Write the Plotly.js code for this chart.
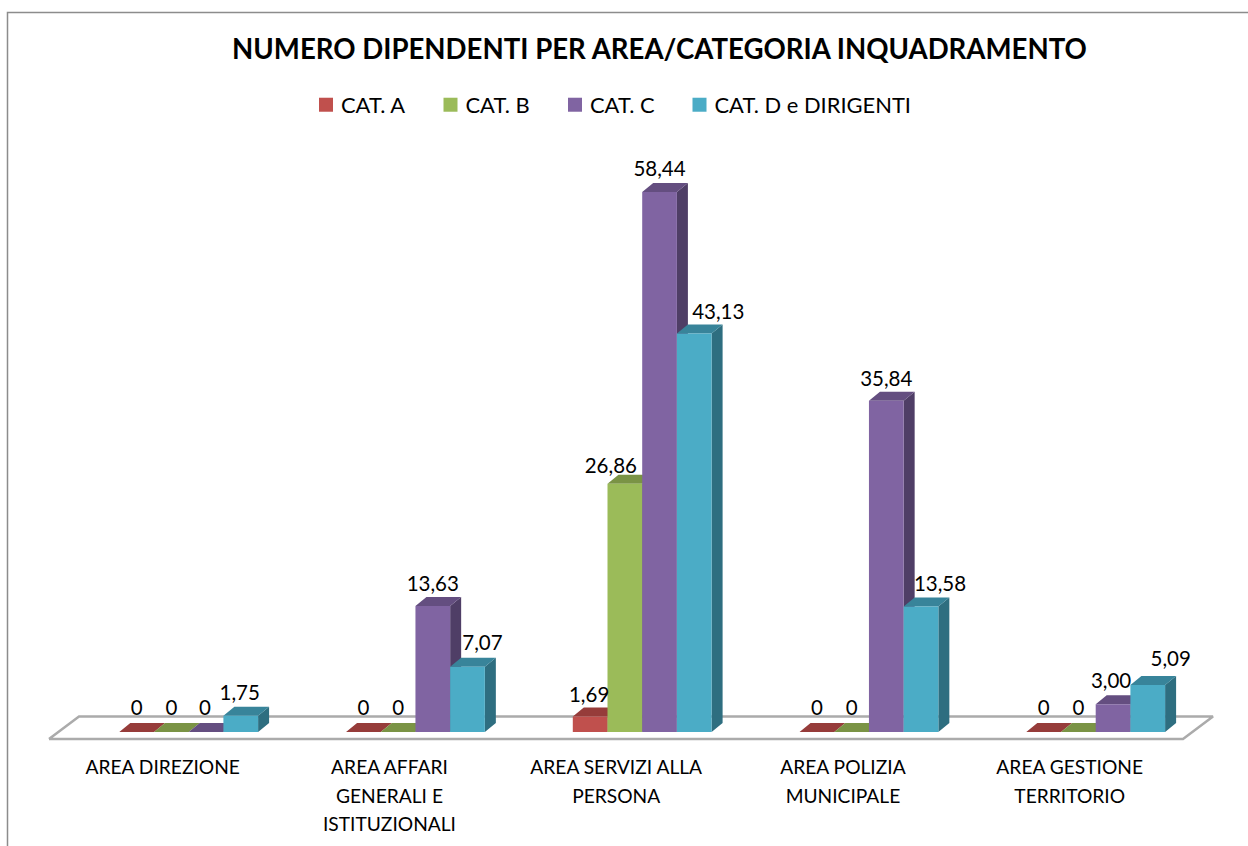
<!DOCTYPE html>
<html>
<head>
<meta charset="utf-8">
<script src="https://cdn.plot.ly/plotly-3.0.1.min.js"></script>
<style>html,body{margin:0;padding:0;background:#fff}</style>
</head>
<body>
<div id="chart" style="width:1248px;height:846px"></div>
<script>
const categories = ["AREA DIREZIONE", "AREA AFFARI<br>GENERALI E<br>ISTITUZIONALI", "AREA SERVIZI ALLA<br>PERSONA", "AREA POLIZIA<br>MUNICIPALE", "AREA GESTIONE<br>TERRITORIO"];
const seriesNames = ["CAT. A", "CAT. B", "CAT. C", "CAT. D e DIRIGENTI"];
const catA = [0, 0, 1.69, 0, 0];
const catB = [0, 0, 26.86, 0, 0];
const catC = [0, 13.63, 58.44, 35.84, 3.00];
const catD = [1.75, 7.07, 43.13, 13.58, 5.09];
const frontColors = ["#C0504D", "#9BBB59", "#8064A2", "#4BACC6"];
const topColors = ["#963C3A", "#7A9345", "#644E80", "#38849A"];
const sideColors = ["#7A302E", "#627637", "#4F3E66", "#2E6E80"];
// hand-placed label nudges (px), by series then category
const labelShiftX = [[0, 0, -1, 0, 0], [0, 0, -14, 0, 0], [-1, 0, 0, 0, -2], [-1, 15, 24, 19, 23]];
const labelLift = [[13, 13, 11, 13, 13], [13, 13, 7, 13, 13], [13, 11, 12, 11, 12], [12, 13, 11, 11.5, 15]];

const series = [catA, catB, catC, catD];
const FONT = "Lato, Carlito, sans-serif";
const spacingPx = 226.75, center0Px = 188.7, unitPx = 9.24, baselinePx = 732;
const plotL = 30, plotR = 1228, plotT = 140, plotB = 745;
const xRange = [(plotL - center0Px) / spacingPx, (plotR - center0Px) / spacingPx];
const yRange = [(baselinePx - plotB) / unitPx, (baselinePx - plotT) / unitPx];
const barW = 34.7 / spacingPx, depthX = 11 / spacingPx, depthY = 9 / unitPx;
const xOf = px => (px - center0Px) / spacingPx;
const yOf = px => (baselinePx - px) / unitPx;
const tickShift = -26 / spacingPx;

const traces = [];
// floor
traces.push({
  type: "scatter", mode: "lines", hoverinfo: "skip", showlegend: false,
  x: [xOf(49), xOf(1183), xOf(1213), xOf(79), xOf(49)],
  y: [yOf(739), yOf(739), yOf(716.5), yOf(716.5), yOf(739)],
  fill: "toself", fillcolor: "#FFFFFF",
  line: {color: "#ABABAB", width: 2.5}
});
// depth faces (side + top) of every bar, left to right
series.forEach((vals, s) => {
  const sx = [], sy = [], tx = [], ty = [];
  vals.forEach((v, i) => {
    const xl = i + (s - 2) * barW, xr = xl + barW;
    sx.push(xr, xr + depthX, xr + depthX, xr, xr, null);
    sy.push(0, depthY, v + depthY, v, 0, null);
    tx.push(xl, xl + depthX, xr + depthX, xr, xl, null);
    ty.push(v, v + depthY, v + depthY, v, v, null);
  });
  traces.push({type: "scatter", mode: "lines", x: sx, y: sy, fill: "toself", fillcolor: sideColors[s],
    line: {width: 0, color: sideColors[s]}, hoverinfo: "skip", showlegend: false});
  traces.push({type: "scatter", mode: "lines", x: tx, y: ty, fill: "toself", fillcolor: topColors[s],
    line: {width: 0, color: topColors[s]}, hoverinfo: "skip", showlegend: false});
});
// front faces
series.forEach((vals, s) => {
  traces.push({type: "bar", name: seriesNames[s], x: vals.map((_, i) => i), y: vals,
    xaxis: "x2", yaxis: "y2", marker: {color: frontColors[s], line: {width: 0}}});
});
// data labels
series.forEach((vals, s) => {
  traces.push({type: "scatter", mode: "text", xaxis: "x2", yaxis: "y2", showlegend: false, hoverinfo: "skip",
    x: vals.map((_, i) => i + (s - 1.5) * barW + labelShiftX[s][i] / spacingPx),
    y: vals.map((v, i) => v + depthY + labelLift[s][i] / unitPx),
    text: vals.map(v => v === 0 ? "0" : v.toFixed(2).replace(".", ",")),
    textposition: "middle center", textfont: {family: FONT, size: 20.5, color: "#000"}, cliponaxis: false});
});

const layout = {
  width: 1248, height: 846, autosize: false,
  paper_bgcolor: "#fff", plot_bgcolor: "rgba(0,0,0,0)",
  margin: {l: plotL, r: 1248 - plotR, t: plotT, b: 846 - plotB, pad: 0},
  font: {family: FONT, color: "#000"},
  title: {text: "<b>NUMERO DIPENDENTI PER AREA/CATEGORIA INQUADRAMENTO</b>", xref: "container", yref: "container",
    x: 659.5 / 1248, xanchor: "center", y: 1 - 49 / 846, yanchor: "middle",
    font: {family: FONT, size: 27.6, color: "#000"}},
  showlegend: true,
  legend: {orientation: "h", xref: "container", yref: "container", x: 301 / 1248, xanchor: "left",
    y: 1 - 105 / 846, yanchor: "middle", entrywidth: 79.5, entrywidthmode: "pixels",
    font: {family: FONT, size: 21.9, color: "#000"}, traceorder: "normal", bgcolor: "rgba(0,0,0,0)"},
  barmode: "group", bargap: 1 - 4 * barW, bargroupgap: 0,
  xaxis: {range: xRange, tickmode: "array", tickvals: categories.map((_, i) => i + tickShift), ticktext: categories,
    showgrid: false, zeroline: false, showline: false, ticks: "", ticklabelstandoff: 9,
    tickangle: 0, tickfont: {family: FONT, size: 19.2, color: "#000"}},
  yaxis: {range: yRange, visible: false, showgrid: false, zeroline: false},
  xaxis2: {range: xRange, overlaying: "x", visible: false, anchor: "y2"},
  yaxis2: {range: yRange, overlaying: "y", visible: false, anchor: "x2"},
  shapes: [{type: "rect", xref: "paper", yref: "paper", layer: "below",
    x0: (7.5 - plotL) / (plotR - plotL), x1: (1260 - plotL) / (plotR - plotL),
    y0: (plotB - 860) / (plotB - plotT), y1: (plotB - 12.5) / (plotB - plotT),
    line: {color: "#8C8C8C", width: 1.5}, fillcolor: "rgba(0,0,0,0)"}]
};

Plotly.newPlot("chart", traces, layout, {displayModeBar: false, staticPlot: true}).then(gd => {
  gd.querySelectorAll(".xtick text").forEach(t => {
    t.querySelectorAll("tspan.line").forEach((line, i) => line.setAttribute("dy", (i * 28.5) + "px"));
  });
  const box = gd.querySelector(".legend .scrollbox");
  if (box) box.removeAttribute("clip-path");
  gd.querySelectorAll(".legend .legendpoints path").forEach(p => {
    p.setAttribute("transform", (p.getAttribute("transform") || "") + " translate(5,0) scale(1.167)");
  });
});
</script>
</body>
</html>
